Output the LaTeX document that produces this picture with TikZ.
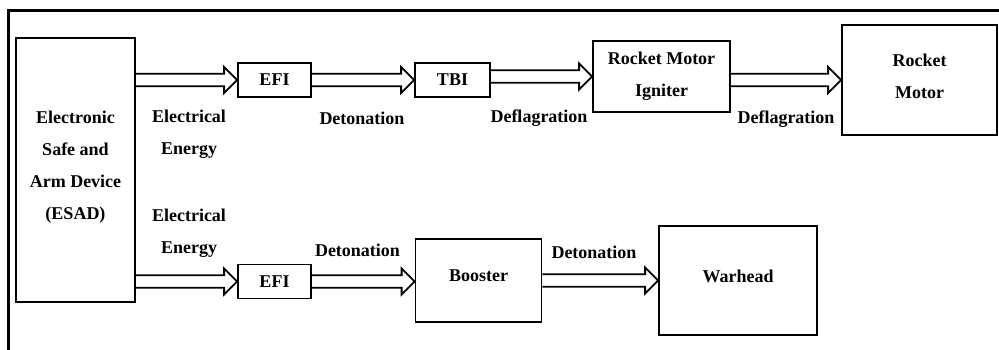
\documentclass[tikz,border=0pt]{standalone}
\usepackage{fontspec}
\setmainfont{Liberation Serif}
\usetikzlibrary{calc}
\begin{document}
\begin{tikzpicture}[x=1pt,y=1pt,
  txt/.style={font=\fontsize{18}{32}\selectfont\bfseries, align=center, inner sep=0pt},
  every label/.style={txt},
  box/.style={draw, line width=1.8pt, inner sep=0pt},
  lbl/.style={txt},
  barrow/.style={draw, line width=1.8pt, line join=miter,
    to path={let \p1=(\tikztostart), \p2=(\tikztotarget) in
      (\x1,\y1+6.3pt) -- (\x2-13pt,\y1+6.3pt) -- (\x2-13pt,\y1+13pt) -- (\x2,\y1)
      -- (\x2-13pt,\y1-13pt) -- (\x2-13pt,\y1-6.3pt) -- (\x1,\y1-6.3pt)}}]
\useasboundingbox (0,0) rectangle (999,350);

% outer frame (top and left edges)
\draw[line width=3pt] (1000,339.5) -- (8.8,339.5) -- (8.8,-2);

% blocks
\node[box, minimum width=119, minimum height=264,
  label={[yshift=3]center:Electronic\\Safe and\\Arm Device\\(ESAD)}] (esad) at (75.5,180) {};
\node[box, minimum width=73, minimum height=34, label={[yshift=0]center:EFI}] (efi1) at (274.5,270) {};
\node[box, minimum width=75, minimum height=34, label={[yshift=0]center:TBI}] (tbi) at (452.5,270) {};
\node[box, minimum width=137, minimum height=71,
  label={[yshift=0.5]center:Rocket Motor\\Igniter}] (rmi) at (661.5,273.5) {};
\node[box, minimum width=155, minimum height=110,
  label={[yshift=4]center:Rocket\\Motor}] (rm) at (919.5,270) {};
\node[box, minimum width=73, minimum height=34, label={[yshift=0]center:EFI}] (efi2) at (274.5,68.5) {};
\node[box, minimum width=126, minimum height=83, label={[yshift=4.5]center:Booster}] (boost) at (478.5,69.5) {};
\node[box, minimum width=158, minimum height=109, label={[yshift=4.5]center:Warhead}] (war) at (738,69.5) {};

% energy transfer arrows
\draw[barrow] (esad.east |- efi1.west) to (efi1.west);
\draw[barrow] (efi1.east) to (tbi.west);
\draw[barrow] (tbi.east |- rmi.west) to (rmi.west);
\draw[barrow] (rmi.east |- rm.west) to (rm.west);
\draw[barrow] (esad.east |- efi2.west) to (efi2.west);
\draw[barrow] (efi2.east) to (boost.west);
\draw[barrow] (boost.east) to (war.west);

% arrow labels
\node[lbl] (l1) at (189,215.5) {Electrical\\Energy};
\node[lbl] (l2) at (362,231.5) {Detonation};
\node[lbl] (l3) at (539,231.5) {Deflagration};
\node[lbl] (l4) at (786,230.5) {Deflagration};
\node[lbl] (l5) at (189,116.5) {Electrical\\Energy};
\node[lbl] (l6) at (357.5,99.5) {Detonation};
\node[lbl] (l7) at (594,97.5) {Detonation};
\end{tikzpicture}
\end{document}
